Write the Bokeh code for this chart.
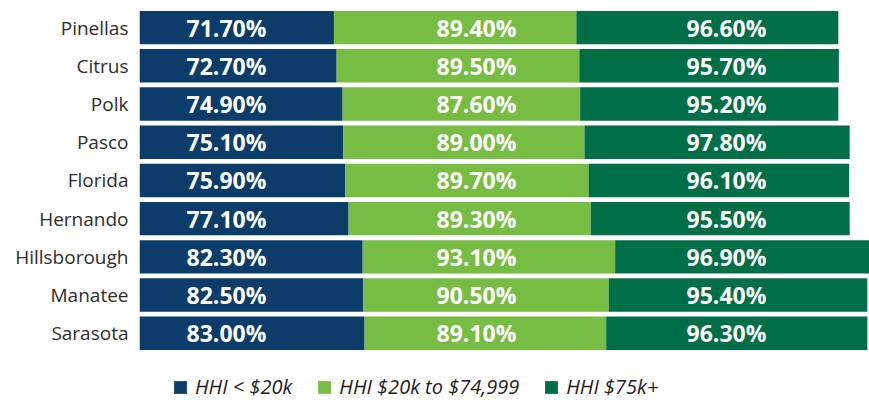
from bokeh.plotting import figure
from bokeh.models import (ColumnDataSource, Range1d, Legend, LegendItem,
                          LabelSet, FixedTicker)
from bokeh.core.properties import value
from bokeh.embed import file_html
from bokeh.resources import INLINE

# ---- data ----
counties = ["Pinellas", "Citrus", "Polk", "Pasco", "Florida",
            "Hernando", "Hillsborough", "Manatee", "Sarasota"]
hhi_under_20k = [71.7, 72.7, 74.9, 75.1, 75.9, 77.1, 82.3, 82.5, 83.0]
hhi_20k_to_75k = [89.4, 89.5, 87.6, 89.0, 89.7, 89.3, 93.1, 90.5, 89.1]
hhi_75k_plus = [96.6, 95.7, 95.2, 97.8, 96.1, 95.5, 96.9, 95.4, 96.3]
series_labels = ["HHI < $20k", "HHI $20k to $74,999", "HHI $75k+"]

# ---- style / layout ----
keys = ["under", "mid", "plus"]
colors = ["#0c3c69", "#78bd43", "#006e46"]
X_MAX = 269.2
Y_TOP, Y_BOTTOM = -0.5, 9.76     # leaves room below the bars for the legend
LABEL_COL_PX = [87, 337, 587]   # label columns, screen px from frame left
FONT = "Open Sans"

series_values = [hhi_under_20k, hhi_20k_to_75k, hhi_75k_plus]
positions = list(range(len(counties)))
data = {"county": counties, "pos": positions}
for k, vals in zip(keys, series_values):
    data[k] = vals
    data[k + "_txt"] = [f"{v:.2f}%" for v in vals]
src = ColumnDataSource(data)

p = figure(y_range=Range1d(start=Y_BOTTOM, end=Y_TOP),
           x_range=Range1d(0, X_MAX),
           width=869, height=400,
           min_border_left=139, min_border_right=0,
           min_border_top=8, min_border_bottom=0,
           output_backend="svg", toolbar_location=None)

renderers = p.hbar_stack(keys, y="pos", height=0.874, color=colors,
                         line_width=0, source=src)

for i, k in enumerate(keys):
    labels = LabelSet(x=LABEL_COL_PX[i], x_units="screen", y="pos",
                      text=k + "_txt", source=src,
                      text_align="center", text_baseline="middle",
                      text_color="white", text_font=value(FONT),
                      text_font_style="bold", text_font_size="23px")
    p.add_layout(labels)

legend = Legend(items=[LegendItem(label=lab, renderers=[r])
                       for lab, r in zip(series_labels, renderers)],
                orientation="horizontal", location=(33, 0),
                glyph_width=16, glyph_height=16, label_height=16,
                label_standoff=7, spacing=24, padding=0, margin=0,
                border_line_alpha=0, background_fill_alpha=0,
                label_text_font=FONT, label_text_font_style="italic",
                label_text_font_size="20px", label_text_color="#222222")
p.add_layout(legend)

p.xaxis.visible = False
p.xgrid.grid_line_color = None
p.ygrid.grid_line_color = None
p.outline_line_color = None
p.yaxis.ticker = FixedTicker(ticks=positions)
p.yaxis.major_label_overrides = {i: c for i, c in zip(positions, counties)}
p.yaxis.axis_line_color = None
p.yaxis.major_tick_line_color = None
p.yaxis.minor_tick_line_color = None
p.yaxis.major_tick_out = 0
p.yaxis.major_tick_in = 0
p.yaxis.major_label_standoff = 11
p.yaxis.major_label_text_font = FONT
p.yaxis.major_label_text_font_size = "19px"
p.yaxis.major_label_text_color = "#2d2d2d"

open("out.html", "w").write(file_html(p, INLINE))
